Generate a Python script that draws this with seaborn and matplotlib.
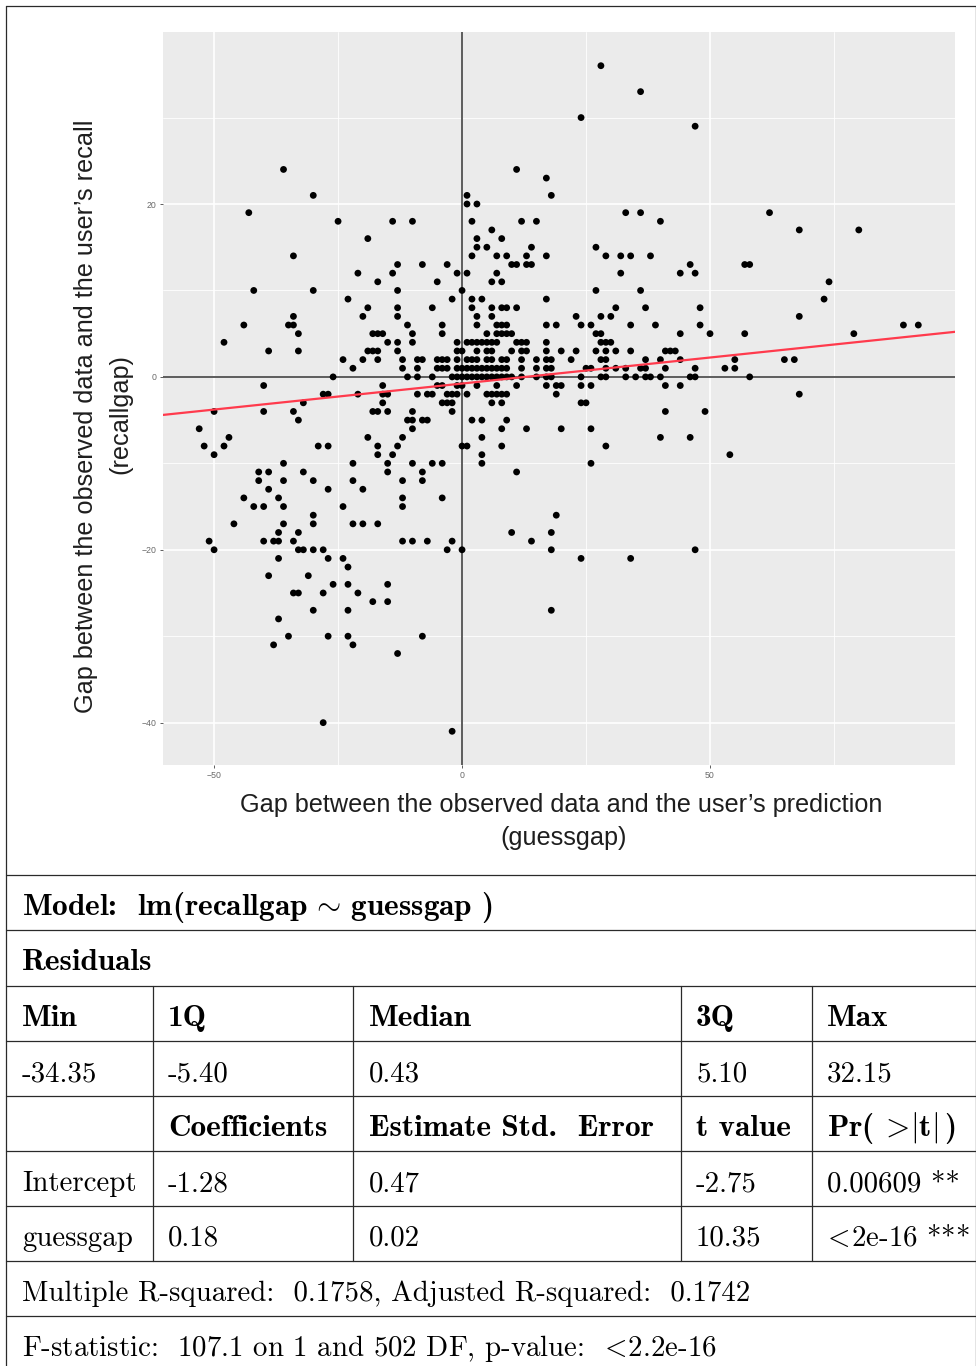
import numpy as np
import pandas as pd
import matplotlib
matplotlib.use("Agg")
import matplotlib.pyplot as plt
import seaborn as sns
from matplotlib.ticker import FixedLocator

# ---------------- data ----------------
guessgap = [
    28,
    36,
    24,
    47,
    -36, 11,
    17,
    -30, 1, 18,
    1, 3,
    -43, 33, 36, 62,
    -25, -14, -10, 2, 12, 15, 40,
    6, 68, 80,
    -19, 3, 8,
    3, 5, 14, 27,
    -34, 2, 7, 9, 13, 17, 29, 32, 34, 38,
    -13, -8, -3, 10, 11, 13, 14, 46, 57, 58,
    -21, -14, -1, 1, 7, 32, 44, 47,
    -17, -5, 6, 8, 74,
    -42, -30, -13, 0, 27, 36,
    -23, -2, 2, 4, 17, 73,
    -19, -13, -6, 2, 6, 8, 9, 11, 31, 37, 48,
    -34, -20, -13, 3, 6, 23, 28, 30, 68,
    -44, -35, -34, -11, -4, 3, 7, 8, 9, 17, 19, 24, 26, 34, 39, 48, 89, 92,
    -33, -18, -17, -16, -10, -4, 5, 7, 8, 9, 10, 27, 28, 44, 50, 57, 79,
    -48, -15, -13, -10, -1, 1, 2, 3, 4, 5, 6, 7, 11, 12, 13, 17, 28, 29, 30,
    -39, -33, -19, -18, -17, -13, -1, 0, 3, 5, 6, 10, 12, 13, 17, 20, 23, 27, 29, 31, 34, 41, 42, 43,
    -24, -20, -17, -12, -9, -8, -5, -4, -3, -1, 1, 2, 3, 5, 6, 8, 9, 12, 15, 17, 18, 22, 28, 29, 37, 40, 44, 55, 65, 67,
    -22, -12, -9, -5, -4, -3, -1, 0, 1, 2, 3, 4, 5, 6, 7, 8, 9, 12, 15, 17, 18, 25, 26, 29, 31, 33, 36, 37, 41, 47, 53, 55,
    -26, -11, -9, -6, -2, -1, 0, 1, 2, 3, 4, 5, 6, 7, 8, 9, 10, 12, 15, 17, 18, 24, 28, 29, 33, 35, 37, 38, 40, 46, 47, 58,
    -40, -16, -5, -4, -1, 0, 3, 7, 11, 17, 19, 20, 24, 26, 41, 44,
    -28, -27, -21, -16, -15, -9, -7, -6, -3, -2, -1, 1, 5, 6, 7, 8, 9, 19, 68,
    -32, -16, -4, -3, -2, 6, 8, 24, 25,
    -50, -40, -34, -18, -17, -15, -10, -2, 41, 49,
    -33, -11, -10, -8, -7, 2, 4, 9,
    -53, -10, 8, 13, 20, 26,
    -47, -19, -12, 4, 40, 46,
    -52, -48, -29, -27, -17, -13, 0, 1, 8, 29,
    -50, -17, -14, 4, 54,
    -36, -22, -15, -10, -6, -4, 4, 26,
    -41, -39, -32, -15, -8, 11,
    -41, -36, -30, -22, -12, -8,
    -39, -27, -20,
    -44, -37, -12, -4,
    -42, -40, -36, -24, -12,
    -30, 19,
    -46, -36, -30, -22, -20, -17,
    -37, -33, 10, 18,
    -51, -40, -38, -37, -34, -12, -10, -7, -2, 14,
    -50, -33, -32, -30, -28, -3, 0, 18, 47,
    -37, -27, -24, 24, 34,
    -23,
    -39, -31,
    -26, -23, -15,
    -34, -33, -28, -21,
    -18, -15,
    -30, -23, 18,
    -37,
    -35, -27, -23, -8,
    -38, -22,
    -13,
    -28,
    -2,
]

recallgap = [
    36,
    33,
    30,
    29,
    24, 24,
    23,
    21, 21, 21,
    20, 20,
    19, 19, 19, 19,
    18, 18, 18, 18, 18, 18, 18,
    17, 17, 17,
    16, 16, 16,
    15, 15, 15, 15,
    14, 14, 14, 14, 14, 14, 14, 14, 14, 14,
    13, 13, 13, 13, 13, 13, 13, 13, 13, 13,
    12, 12, 12, 12, 12, 12, 12, 12,
    11, 11, 11, 11, 11,
    10, 10, 10, 10, 10, 10,
    9, 9, 9, 9, 9, 9,
    8, 8, 8, 8, 8, 8, 8, 8, 8, 8, 8,
    7, 7, 7, 7, 7, 7, 7, 7, 7,
    6, 6, 6, 6, 6, 6, 6, 6, 6, 6, 6, 6, 6, 6, 6, 6, 6, 6,
    5, 5, 5, 5, 5, 5, 5, 5, 5, 5, 5, 5, 5, 5, 5, 5, 5,
    4, 4, 4, 4, 4, 4, 4, 4, 4, 4, 4, 4, 4, 4, 4, 4, 4, 4, 4,
    3, 3, 3, 3, 3, 3, 3, 3, 3, 3, 3, 3, 3, 3, 3, 3, 3, 3, 3, 3, 3, 3, 3, 3,
    2, 2, 2, 2, 2, 2, 2, 2, 2, 2, 2, 2, 2, 2, 2, 2, 2, 2, 2, 2, 2, 2, 2, 2, 2, 2, 2, 2, 2, 2,
    1, 1, 1, 1, 1, 1, 1, 1, 1, 1, 1, 1, 1, 1, 1, 1, 1, 1, 1, 1, 1, 1, 1, 1, 1, 1, 1, 1, 1, 1, 1, 1,
    0, 0, 0, 0, 0, 0, 0, 0, 0, 0, 0, 0, 0, 0, 0, 0, 0, 0, 0, 0, 0, 0, 0, 0, 0, 0, 0, 0, 0, 0, 0, 0,
    -1, -1, -1, -1, -1, -1, -1, -1, -1, -1, -1, -1, -1, -1, -1, -1,
    -2, -2, -2, -2, -2, -2, -2, -2, -2, -2, -2, -2, -2, -2, -2, -2, -2, -2, -2,
    -3, -3, -3, -3, -3, -3, -3, -3, -3,
    -4, -4, -4, -4, -4, -4, -4, -4, -4, -4,
    -5, -5, -5, -5, -5, -5, -5, -5,
    -6, -6, -6, -6, -6, -6,
    -7, -7, -7, -7, -7, -7,
    -8, -8, -8, -8, -8, -8, -8, -8, -8, -8,
    -9, -9, -9, -9, -9,
    -10, -10, -10, -10, -10, -10, -10, -10,
    -11, -11, -11, -11, -11, -11,
    -12, -12, -12, -12, -12, -12,
    -13, -13, -13,
    -14, -14, -14, -14,
    -15, -15, -15, -15, -15,
    -16, -16,
    -17, -17, -17, -17, -17, -17,
    -18, -18, -18, -18,
    -19, -19, -19, -19, -19, -19, -19, -19, -19, -19,
    -20, -20, -20, -20, -20, -20, -20, -20, -20,
    -21, -21, -21, -21, -21,
    -22,
    -23, -23,
    -24, -24, -24,
    -25, -25, -25, -25,
    -26, -26,
    -27, -27, -27,
    -28,
    -30, -30, -30, -30,
    -31, -31,
    -32,
    -40,
    -41,
]

# fitted line as drawn in the picture
fit_intercept = -0.77
fit_slope = 0.0602

x_major = [-50, 0, 50]
x_minor = [-25, 25, 75]
y_major = [-40, -20, 0, 20]
y_minor = [-30, -10, 10, 30]
x_limits = [-60.3, 99.4]
y_limits = [-44.9, 39.9]

x_label = ["Gap between the observed data and the user\u2019s prediction", "(guessgap)"]
y_label = ["Gap between the observed data and the user\u2019s recall", "(recallgap)"]

model_title = r"Model:  lm(recallgap$\,\sim\,$guessgap )"
residual_title = "Residuals"
residual_header = ["Min", "1Q", "Median", "3Q", "Max"]
residual_values = ["-34.35", "-5.40", "0.43", "5.10", "32.15"]
coef_header = ["", "Coefficients", "Estimate Std.  Error", "t value", r"Pr( $\!>\!|$t$|\,$)"]
coef_intercept = ["Intercept", "-1.28", "0.47", "-2.75", "0.00609 **"]
coef_guessgap = ["guessgap", "0.18", "0.02", "10.35", r"$\!<\!$2e-16 ***"]
r2_line = "Multiple R-squared:  0.1758, Adjusted R-squared:  0.1742"
f_line = r"F-statistic:  107.1 on 1 and 502 DF, p-value:  $\!<\!$2.2e-16"

# ---------------- figure ----------------
sns.set_theme(style="darkgrid")
plt.rcParams["mathtext.fontset"] = "cm"
plt.rcParams["font.family"] = ["Liberation Sans", "DejaVu Sans"]

W, H = 976, 1366
fig = plt.figure(figsize=(W / 100, H / 100), dpi=100)
fig.patch.set_facecolor("white")

ax = fig.add_axes([163 / W, 1 - 765 / H, 792 / W, 733 / H])
ax.set_facecolor("#EBEBEB")

df = pd.DataFrame({"guessgap": guessgap, "recallgap": recallgap})

ax.axhline(0, color="#5c5c5c", lw=1.4, zorder=2)
ax.axvline(0, color="#5c5c5c", lw=1.4, zorder=2)
sns.scatterplot(data=df, x="guessgap", y="recallgap", ax=ax, color="black",
                s=24, edgecolor="none", linewidth=0, zorder=3, legend=False)
line_x = np.array(x_limits)
sns.lineplot(x=line_x, y=fit_intercept + fit_slope * line_x, ax=ax,
             color="#ff3a4c", lw=1.6, zorder=4)

ax.set_xlim(*x_limits)
ax.set_ylim(*y_limits)
ax.xaxis.set_major_locator(FixedLocator(x_major))
ax.xaxis.set_minor_locator(FixedLocator(x_minor))
ax.yaxis.set_major_locator(FixedLocator(y_major))
ax.yaxis.set_minor_locator(FixedLocator(y_minor))
ax.grid(which="major", color="white", lw=1.2)
ax.grid(which="minor", color="white", lw=0.6)
ax.set_axisbelow(True)
for s in ax.spines.values():
    s.set_visible(False)
ax.tick_params(which="major", length=2.5, width=0.6, color="#444444",
               labelsize=6.3, labelcolor="#6a6a6a", pad=2,
               bottom=True, left=True)
ax.tick_params(which="minor", length=0)
ax.set_xlabel("")
ax.set_ylabel("")

# axis titles
lab_kw = dict(fontsize=18.2, color="#1e1e1e", ha="center", va="center")
fig.text(561 / W, 1 - 805 / H, x_label[0], **lab_kw)
fig.text(564 / W, 1 - 838 / H, x_label[1], **lab_kw)
fig.text(86 / W, 1 - 416 / H, y_label[0], rotation=90, **lab_kw)
fig.text(120 / W, 1 - 414 / H, y_label[1], rotation=90, **lab_kw)

# ---------------- table ----------------
tab = fig.add_axes([0, 0, 1, 1], facecolor="none")
tab.set_xlim(0, W)
tab.set_ylim(H, 0)
tab.axis("off")

lc = "#2a2a2a"
lw = 0.9
row_lines = [875, 930, 986, 1041, 1096, 1151, 1206, 1261, 1316]
tab.plot([6, W], [6, 6], color=lc, lw=lw)
tab.plot([6, 6], [6, H], color=lc, lw=lw)
tab.plot([975.5, 975.5], [6, H], color=lc, lw=lw)
for yy in row_lines:
    tab.plot([6, W], [yy, yy], color=lc, lw=lw)
col_lines = [152.5, 352.5, 680.5, 811.5]
for xx in col_lines:
    tab.plot([xx, xx], [986, 1261], color=lc, lw=lw)

col_x = [22, 168, 369, 696, 827]
reg = dict(family="cmr10", fontsize=20.8, color="black", va="baseline", ha="left")
bold = dict(family="cmb10", fontsize=22.5, color="black", va="baseline", ha="left")

def row_text(cells, top, style):
    for cx, txt in zip(col_x, cells):
        if txt:
            tab.text(cx, top + 40, txt, **style)

tab.text(22, 875 + 40, model_title, **bold)
tab.text(22, 930 + 40, residual_title, **bold)
row_text(residual_header, 986, bold)
row_text(residual_values, 1041, reg)
row_text(coef_header, 1096, bold)
row_text(coef_intercept, 1151, reg)
row_text(coef_guessgap, 1206, reg)
tab.text(22, 1261 + 40, r2_line, **reg)
tab.text(22, 1316 + 40, f_line, **reg)

fig.savefig("out.png", dpi=100, facecolor="white")
